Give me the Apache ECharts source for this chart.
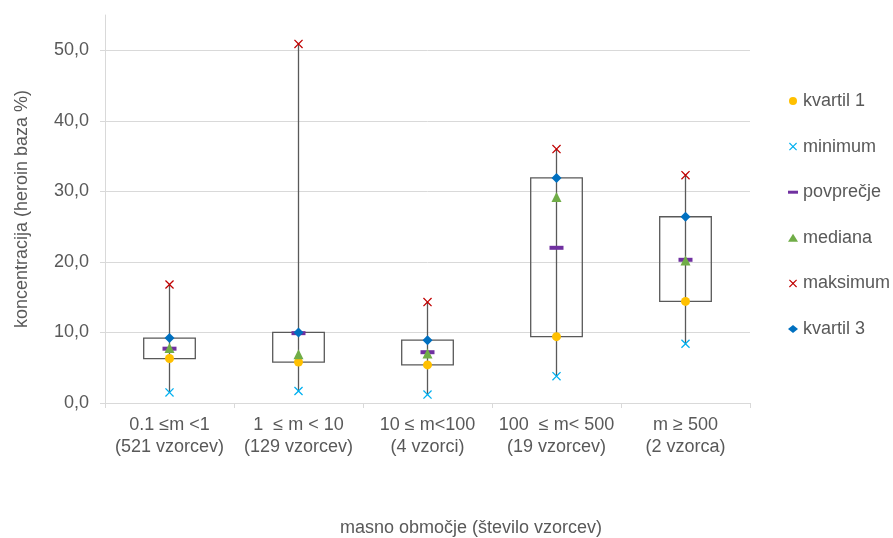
<!DOCTYPE html>
<html><head><meta charset="utf-8">
<script src="https://cdn.jsdelivr.net/npm/echarts@6/dist/echarts.min.js"></script>
<style>html,body{margin:0;padding:0;background:#fff}#c{width:893px;height:538px}</style>
</head><body><div id="c"></div>
<script>
const categories = ['0.1 ≤m <1\n(521 vzorcev)', '1  ≤ m < 10\n(129 vzorcev)', '10 ≤ m<100\n(4 vzorci)', '100  ≤ m< 500\n(19 vzorcev)', 'm ≥ 500\n(2 vzorca)'];
const kvartil1 = [6.3, 5.8, 5.4, 9.4, 14.4];
const minimum = [1.5, 1.7, 1.2, 3.8, 8.4];
const povprecje = [7.7, 9.9, 7.2, 22.0, 20.3];
const mediana = [7.8, 6.9, 7.0, 29.2, 20.2];
const maksimum = [16.8, 50.9, 14.3, 36.0, 32.3];
const kvartil3 = [9.2, 10.0, 8.9, 31.9, 26.4];

const xShape = 'path://M0,1L1,0L5,4L9,0L10,1L6,5L10,9L9,10L5,6L1,10L0,9L4,5Z';
const dashShape = 'path://M0,0L10,0L10,3L0,3Z';
const font = 'Liberation Sans, Arial, sans-serif';
const txt = '#595959';

const boxData = categories.map((c, i) => [i, minimum[i], maksimum[i], kvartil1[i], kvartil3[i]]);

const chart = echarts.init(document.getElementById('c'));
chart.setOption({
  animation: false,
  textStyle: {fontFamily: font},
  grid: {left: 105, right: 143, top: 15, bottom: 135, outerBoundsMode: 'none', containLabel: false},
  legend: {
    orient: 'vertical', left: 783, top: 86, itemGap: 25.6, itemWidth: 10, itemHeight: 8,
    textStyle: {fontSize: 18, lineHeight: 20, color: txt, fontFamily: font},
    data: [
      {name: 'kvartil 1', icon: 'circle'},
      {name: 'minimum', icon: xShape},
      {name: 'povprečje', icon: dashShape},
      {name: 'mediana', icon: 'triangle'},
      {name: 'maksimum', icon: xShape},
      {name: 'kvartil 3', icon: 'diamond'}
    ]
  },
  xAxis: {
    type: 'category', data: categories, boundaryGap: true,
    axisLine: {show: true, lineStyle: {color: '#d9d9d9', width: 1}},
    axisTick: {show: true, length: 5, lineStyle: {color: '#d9d9d9'}},
    axisLabel: {fontSize: 18, color: txt, lineHeight: 22, margin: 11, interval: 0, fontFamily: font},
    name: 'masno območje (število vzorcev)', nameLocation: 'middle', nameGap: 116,
    nameTextStyle: {fontSize: 18, color: txt, padding: [0,0,0,87], fontFamily: font}
  },
  yAxis: {
    type: 'value', min: 0, max: 55, interval: 10,
    axisLine: {show: true, lineStyle: {color: '#d9d9d9'}},
    axisTick: {show: true, length: 5, lineStyle: {color: '#d9d9d9'}},
    axisLabel: {fontSize: 18, color: txt, margin: 16, showMaxLabel: false, fontFamily: font,
      formatter: v => v.toFixed(1).replace('.', ',')},
    splitLine: {show: true, showMaxLine: false, lineStyle: {color: '#d9d9d9', width: 1}},
    name: 'koncentracija (heroin baza %)', nameLocation: 'middle', nameRotate: 90, nameGap: 74,
    nameTextStyle: {fontSize: 18, color: txt, fontFamily: font}
  },
  series: [
    {
      type: 'custom', name: 'box', silent: true, z: 1,
      data: boxData,
      encode: {x: 0, y: [1, 2, 3, 4]},
      renderItem: function (params, api) {
        const i = api.value(0);
        const pMin = api.coord([i, api.value(1)]);
        const pMax = api.coord([i, api.value(2)]);
        const pQ1 = api.coord([i, api.value(3)]);
        const pQ3 = api.coord([i, api.value(4)]);
        const bw = api.size([1, 0])[0] * 0.4;
        return {
          type: 'group',
          children: [
            {type: 'rect', shape: {x: pQ3[0] - bw / 2, y: pQ3[1], width: bw, height: pQ1[1] - pQ3[1]},
             style: {fill: 'none', stroke: '#595959', lineWidth: 1.3}},
            {type: 'line', shape: {x1: pMin[0], y1: pMin[1], x2: pMax[0], y2: pMax[1]},
             style: {stroke: '#595959', lineWidth: 1.3}}
          ]
        };
      }
    },
    {type: 'scatter', name: 'kvartil 1', data: kvartil1, symbol: 'circle', symbolSize: 9, itemStyle: {color: '#FFC000', opacity: 1}, z: 3},
    {type: 'scatter', name: 'minimum', data: minimum, symbol: xShape, symbolSize: 9, itemStyle: {color: '#00B0F0', opacity: 1}, z: 3},
    {type: 'scatter', name: 'povprečje', data: povprecje, symbol: 'rect', symbolSize: [14, 4], itemStyle: {color: '#7030A0', opacity: 1}, z: 3},
    {type: 'scatter', name: 'mediana', data: mediana, symbol: 'triangle', symbolSize: 10, itemStyle: {color: '#70AD47', opacity: 1}, z: 3},
    {type: 'scatter', name: 'maksimum', data: maksimum, symbol: xShape, symbolSize: 9, itemStyle: {color: '#C00000', opacity: 1}, z: 3},
    {type: 'scatter', name: 'kvartil 3', data: kvartil3, symbol: 'diamond', symbolSize: 10, itemStyle: {color: '#0070C0', opacity: 1}, z: 3}
  ]
});
</script>
</body></html>
